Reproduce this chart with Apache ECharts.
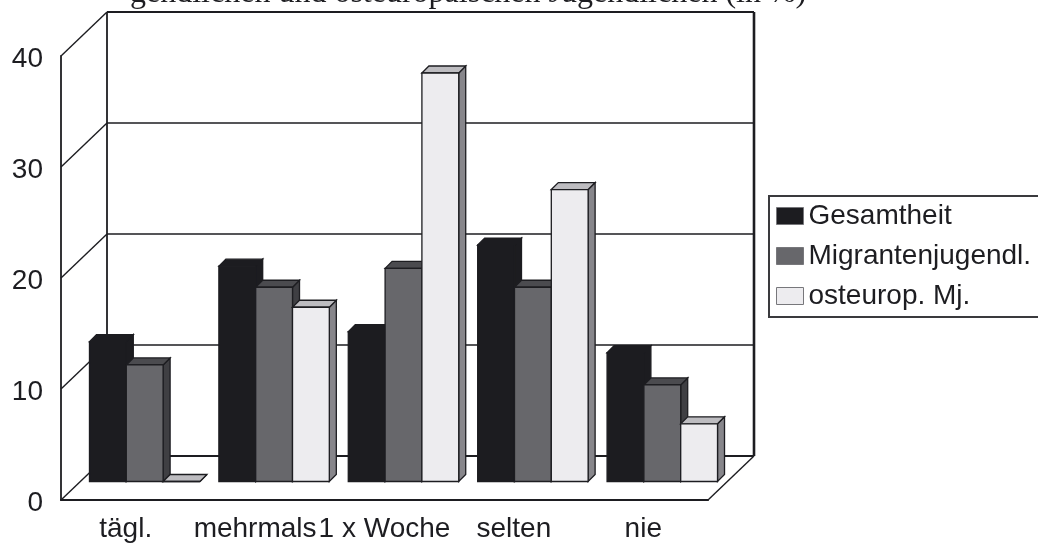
<!DOCTYPE html>
<html lang="de">
<head>
<meta charset="utf-8">
<title>Mediennutzung</title>
<style>
  html, body { margin: 0; padding: 0; background: #fff; }
  #chart { width: 1038px; height: 543px; overflow: hidden; }
</style>
<script src="https://cdn.jsdelivr.net/npm/echarts@6/dist/echarts.min.js"></script>
</head>
<body>
<div id="chart"></div>
<script>
// Percentages per frequency class
const categories = ['tägl.', 'mehrmals', '1 x Woche', 'selten', 'nie'];
const gesamtheit = [12.6, 19.4, 13.5, 21.3, 11.6];
const migranten = [10.5, 17.5, 19.2, 17.5, 8.7];
const osteuropa = [0, 15.7, 36.8, 26.3, 5.2];
const wallTicks = [0, 10, 20, 30, 40];
const titleText = 'gendlichen und osteuropäischen Jugendlichen (in %)';

const ink = '#1d1d21';
const font = '"Liberation Sans", Arial, sans-serif';

// Pseudo-3D offsets: wall depth, front plane of the bars, thickness of the bars
const wall = { dx: 46, dy: -44 };
const barPlane = { dx: 19, dy: -18.5 };
const barDepth = { dx: 7, dy: -7 };
const barCount = 3;
const barWidthShare = 0.2845;

function line(x1, y1, x2, y2, width, color) {
  return {
    type: 'line',
    shape: { x1, y1, x2, y2 },
    style: { stroke: color || ink, lineWidth: width, fill: null }
  };
}

function renderWall(params, api) {
  const tick = api.value(0);
  const cs = params.coordSys;
  const p = api.coord([0, tick]);
  const y = p[1];
  const left = cs.x;
  const right = cs.x + cs.width;
  const edge = tick === 0 || tick === 40;
  const children = [
    line(left, y, left + wall.dx, y + wall.dy, 1.4),
    line(left + wall.dx, y + wall.dy, right + wall.dx, y + wall.dy, edge ? 2.2 : 1.4)
  ];
  if (tick === 40) {
    const yFloor = api.coord([0, 0])[1];
    children.push(line(left + wall.dx, y + wall.dy, left + wall.dx, yFloor + wall.dy, 1.8));
    children.push(line(right + wall.dx, y + wall.dy, right + wall.dx, yFloor + wall.dy, 2.6));
  }
  if (tick === 0) {
    children.push(line(right, y, right + wall.dx, y + wall.dy, 1.4));
  }
  return { type: 'group', children };
}

function face(points, fill, stroke) {
  return {
    type: 'polygon',
    shape: { points },
    style: { fill, stroke, lineWidth: 1.3, lineJoin: 'miter' }
  };
}

// One extruded bar: front face, top face and right side
function barRenderer(seriesIndex, colors) {
  return function (params, api) {
    const cat = api.value(0);
    const val = api.value(1);
    const band = api.size([1, 0])[0];
    const w = band * barWidthShare;
    const base = api.coord([cat, 0]);
    const top = api.coord([cat, val]);
    const x0 = base[0] + barPlane.dx - (barCount * w) / 2 + seriesIndex * w;
    const x1 = x0 + w;
    const yb = base[1] + barPlane.dy;
    const yt = top[1] + barPlane.dy;
    const dx = barDepth.dx;
    const dy = barDepth.dy;
    return {
      type: 'group',
      children: [
        face([[x1, yt], [x1 + dx, yt + dy], [x1 + dx, yb + dy], [x1, yb]], colors.side, colors.stroke),
        face([[x0, yt], [x0 + dx, yt + dy], [x1 + dx, yt + dy], [x1, yt]], colors.top, colors.stroke),
        face([[x0, yt], [x1, yt], [x1, yb], [x0, yb]], colors.front, colors.stroke)
      ]
    };
  };
}

function barSeries(name, values, seriesIndex, colors) {
  return {
    type: 'custom',
    name,
    coordinateSystem: 'cartesian2d',
    encode: { x: 0, y: 1 },
    data: values.map((v, i) => [i, v]),
    itemStyle: { color: colors.front },
    renderItem: barRenderer(seriesIndex, colors),
    silent: true
  };
}

const chart = echarts.init(document.getElementById('chart'), null, { renderer: 'canvas' });
chart.setOption({
  animation: false,
  backgroundColor: '#ffffff',
  title: {
    text: titleText,
    left: 130,
    top: -22,
    padding: 0,
    textStyle: { fontFamily: '"Liberation Serif", "Times New Roman", serif', fontSize: 32, fontWeight: 'normal', color: ink }
  },
  grid: { left: 61, top: 56, width: 647, height: 444.5, containLabel: false },
  xAxis: {
    type: 'category',
    data: categories,
    axisLine: { show: true, lineStyle: { color: ink, width: 2.2 } },
    axisTick: { show: false },
    splitLine: { show: false },
    axisLabel: { interval: 0, fontFamily: font, fontSize: 28, color: ink, margin: 15 }
  },
  yAxis: {
    type: 'value',
    min: 0,
    max: 40,
    interval: 10,
    axisLine: { show: true, lineStyle: { color: ink, width: 1.8 } },
    axisTick: { show: false },
    splitLine: { show: false },
    axisLabel: { fontFamily: font, fontSize: 28, color: ink, margin: 18, verticalAlign: 'top', lineHeight: 6 }
  },
  legend: {
    orient: 'vertical',
    left: 769,
    top: 196,
    padding: [4, 30, 5, 7],
    backgroundColor: '#ffffff',
    borderColor: '#3a3a3e',
    borderWidth: 2,
    borderRadius: 0,
    itemWidth: 27,
    itemHeight: 17,
    itemGap: 8,
    icon: 'rect',
    selectedMode: false,
    data: ['Gesamtheit', 'Migrantenjugendl.', 'osteurop. Mj.'],
    itemStyle: { borderColor: '#77777b', borderWidth: 1 },
    textStyle: { fontFamily: font, fontSize: 28, color: ink, lineHeight: 32 }
  },
  series: [
    {
      type: 'custom',
      name: 'Wand',
      coordinateSystem: 'cartesian2d',
      encode: { y: 0 },
      data: wallTicks.map((t) => [t]),
      renderItem: renderWall,
      silent: true
    },
    barSeries('Gesamtheit', gesamtheit, 0, { front: '#1c1c20', top: '#1c1c20', side: '#1c1c20', stroke: '#1c1c20' }),
    barSeries('Migrantenjugendl.', migranten, 1, { front: '#67676b', top: '#4b4b4f', side: '#3f3f43', stroke: ink }),
    barSeries('osteurop. Mj.', osteuropa, 2, { front: '#edecef', top: '#bdbcc0', side: '#87868b', stroke: ink })
  ]
});
</script>
</body>
</html>
